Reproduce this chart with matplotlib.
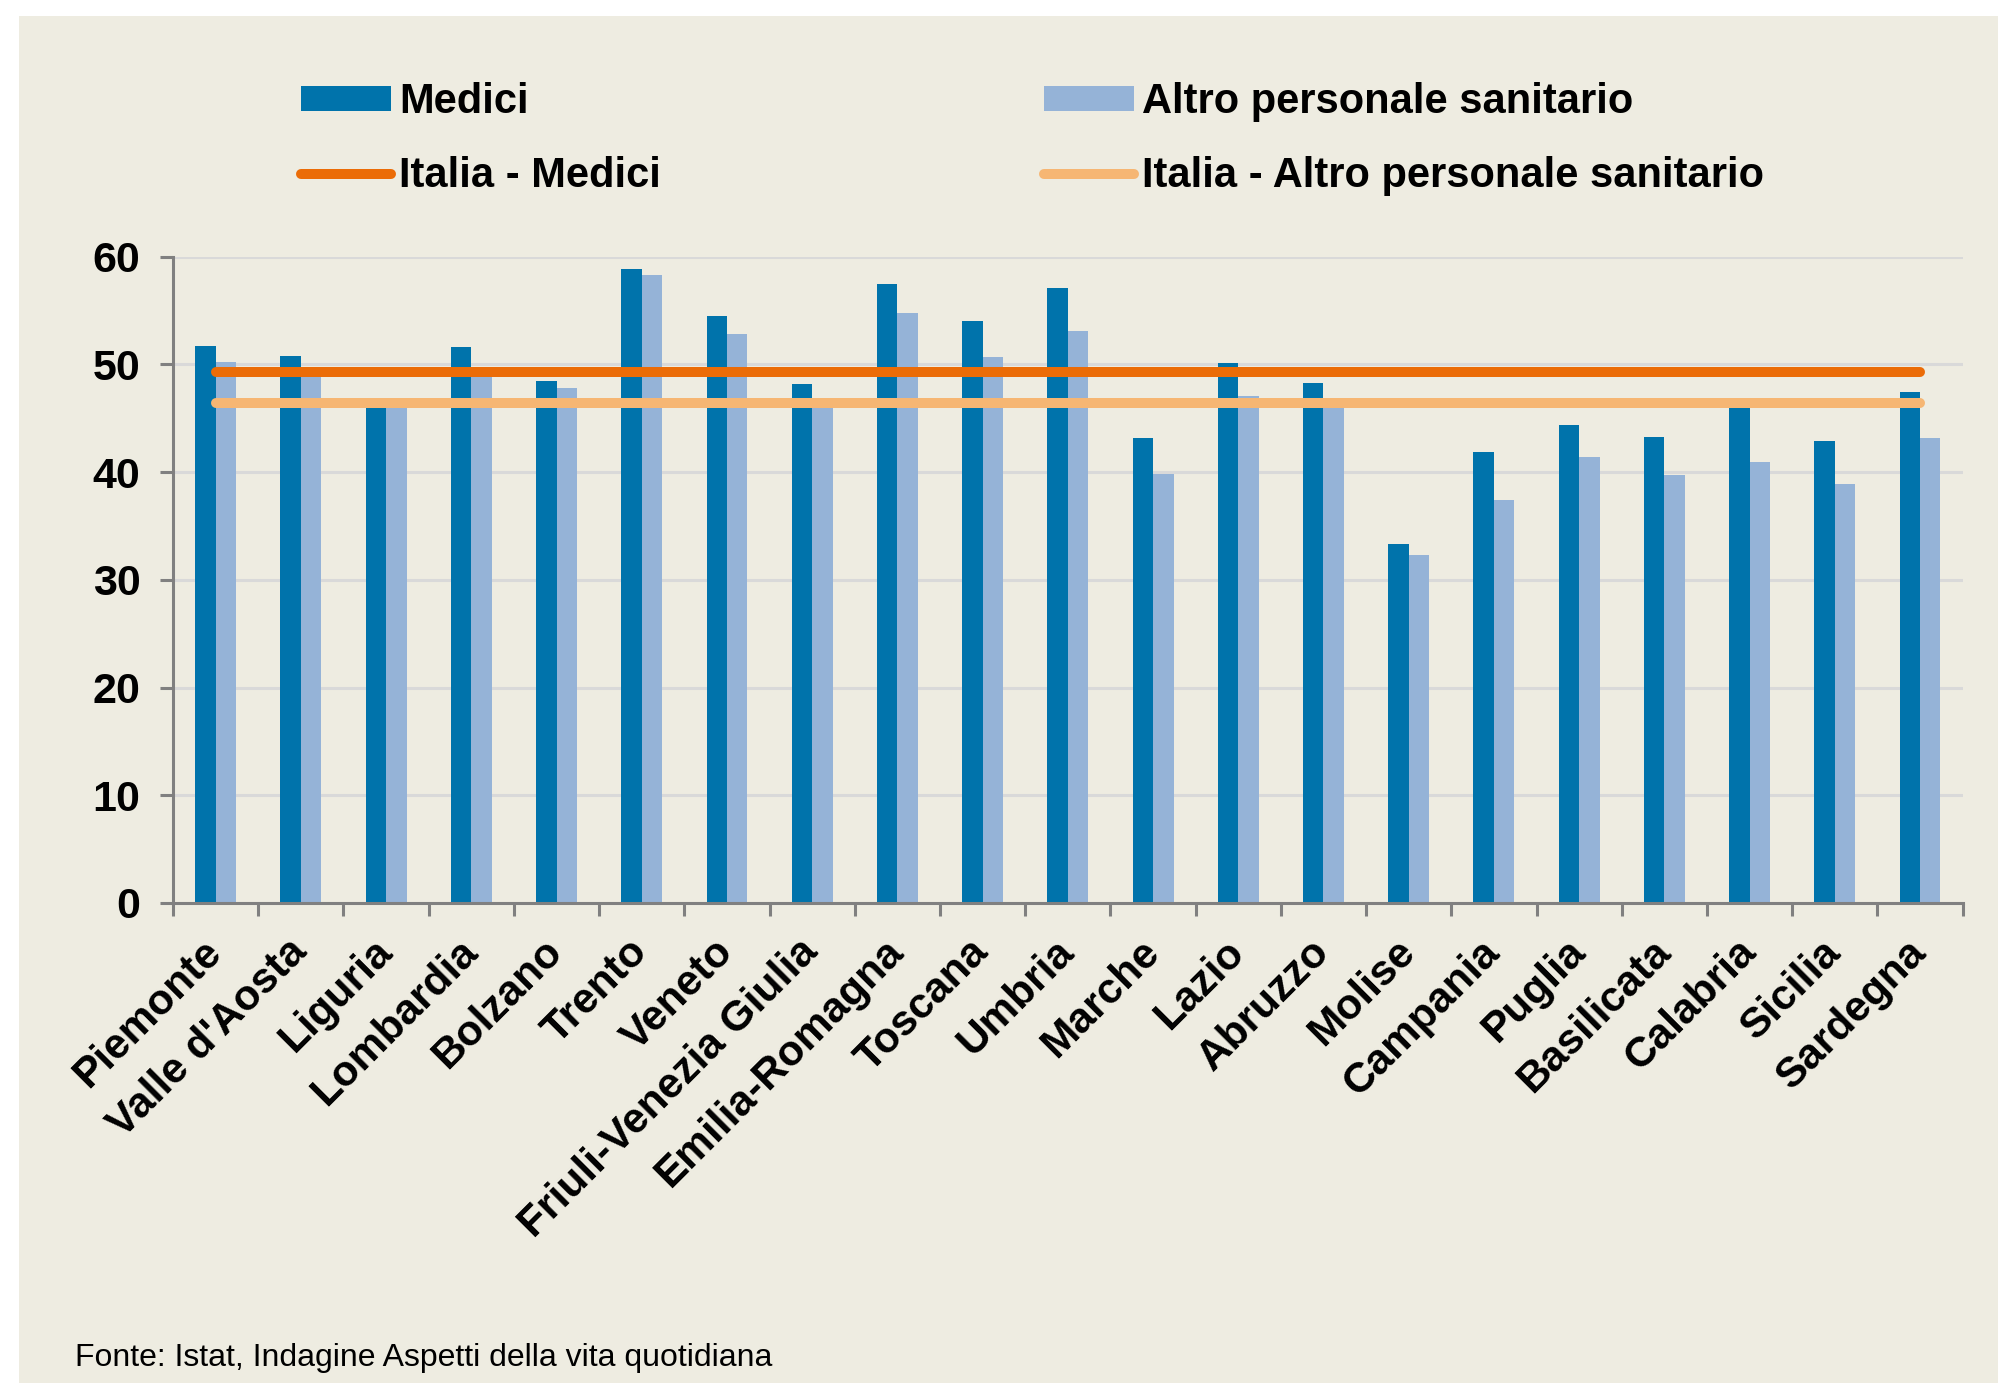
import numpy as np
import matplotlib.pyplot as plt
from matplotlib.patches import Rectangle, Patch
from matplotlib.lines import Line2D

plt.rcParams['font.family'] = ['Liberation Sans', 'DejaVu Sans']

# valori
regioni = ["Piemonte", "Valle d'Aosta", "Liguria", "Lombardia", "Bolzano", "Trento",
           "Veneto", "Friuli-Venezia Giulia", "Emilia-Romagna", "Toscana", "Umbria",
           "Marche", "Lazio", "Abruzzo", "Molise", "Campania", "Puglia", "Basilicata",
           "Calabria", "Sicilia", "Sardegna"]
medici = [51.7, 50.8, 46.9, 51.6, 48.5, 58.9, 54.5, 48.2, 57.5, 54.0, 57.1,
          43.2, 50.1, 48.3, 33.3, 41.9, 44.4, 43.3, 46.4, 42.9, 47.4]
altro = [50.2, 49.7, 46.5, 49.6, 47.8, 58.3, 52.8, 46.5, 54.8, 50.7, 53.1,
         39.8, 47.1, 46.4, 32.3, 37.4, 41.4, 39.7, 40.9, 38.9, 43.2]
italia_medici = 49.3
italia_altro = 46.4
yticks = [0, 10, 20, 30, 40, 50, 60]

bg = '#EEECE1'
c_med = '#0073AB'
c_alt = '#95B3D7'
c_it_med = '#EB6C07'
c_it_alt = '#F6B673'

fig = plt.figure(figsize=(19.98, 13.83), dpi=100)
fig.patch.set_facecolor('white')
fig.add_artist(Rectangle((19/1998, 0), 1, 1 - 16/1383, transform=fig.transFigure,
                         facecolor=bg, edgecolor='none', zorder=-10))

ax = fig.add_axes([0.0866, 0.3471, 0.9823 - 0.0866, 0.8144 - 0.3471])
ax.set_facecolor(bg)

x = np.arange(len(regioni))
w = 0.24
ax.bar(x - w/2, medici, w, color=c_med, zorder=2)
ax.bar(x + w/2, altro, w, color=c_alt, zorder=2)
ax.plot(x, [italia_medici]*len(x), color=c_it_med, lw=7.2, solid_capstyle='round', zorder=3)
ax.plot(x, [italia_altro]*len(x), color=c_it_alt, lw=7.2, solid_capstyle='round', zorder=3)

ax.set_xlim(-0.5, len(regioni) - 0.5)
ax.set_ylim(0, 60)
ax.set_yticks(yticks)
ax.set_yticklabels([str(v) for v in yticks], fontsize=31, fontweight='bold')
ax.yaxis.grid(True, color='#D9D9D9', lw=2.2, zorder=0)
ax.set_axisbelow(True)

ax.set_xticks(x)
ax.set_xticklabels(regioni, fontsize=30.5, fontweight='bold', rotation=45,
                   ha='right', va='center', rotation_mode='anchor')
ax.set_xticks(np.arange(-0.5, len(regioni)), minor=True)
ax.tick_params(axis='x', which='major', length=0, pad=31)
ax.tick_params(axis='x', which='minor', length=9.5, width=2.2, color='#808080', direction='out')
ax.tick_params(axis='y', length=9.5, width=2.2, color='#808080', direction='out', pad=14)

for s in ['top', 'right']:
    ax.spines[s].set_visible(False)
for s in ['left', 'bottom']:
    ax.spines[s].set_color('#808080')
    ax.spines[s].set_linewidth(2.2)

handles = [Patch(facecolor=c_med, edgecolor='none'),
           Line2D([], [], color=c_it_med, lw=7.2, solid_capstyle='round'),
           Patch(facecolor=c_alt, edgecolor='none'),
           Line2D([], [], color=c_it_alt, lw=7.2, solid_capstyle='round')]
labels = ['Medici', 'Italia - Medici', 'Altro personale sanitario',
          'Italia - Altro personale sanitario']
fig.legend(handles, labels, ncol=2, frameon=False, loc='upper left',
           bbox_to_anchor=(301/1998, 1 - 82/1383),
           prop={'size': 30, 'weight': 'bold'},
           handlelength=2.15, handleheight=0.55, handletextpad=0.2,
           columnspacing=9.2, labelspacing=0.82, borderpad=0, borderaxespad=0)

fig.text(75/1998, 1 - 1366/1383, 'Fonte: Istat, Indagine Aspetti della vita quotidiana',
         fontsize=23, va='baseline', ha='left')

fig.savefig('out.png', dpi=100, facecolor=fig.get_facecolor())
